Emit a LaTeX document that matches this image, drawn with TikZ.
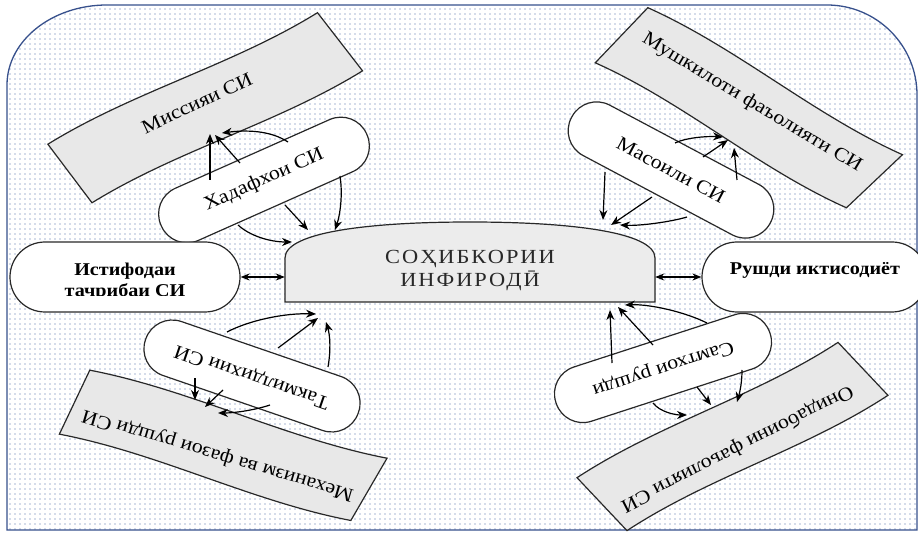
\documentclass[tikz,border=0pt]{standalone}
\usepackage{fontspec}
\setmainfont{Liberation Serif}[FakeStretch=1.12]
\usetikzlibrary{patterns.meta,arrows.meta,calc}
\definecolor{dotcol}{RGB}{75,105,165}
\definecolor{bordcol}{RGB}{55,80,140}
\definecolor{bangray}{RGB}{232,232,232}
\definecolor{segray}{RGB}{236,236,236}
\definecolor{edgecol}{RGB}{40,40,40}
\definecolor{setxt}{RGB}{40,40,40}
\tikzset{
  pill/.style={draw=edgecol, fill=white, line width=1.2pt, rounded corners=28pt,
    minimum width=225pt, minimum height=57pt, inner sep=0pt, font=\fontsize{19.5}{22}\selectfont},
  sidenode/.style={draw=edgecol, fill=white, line width=1.2pt, rounded corners=35pt,
    minimum height=70pt, inner sep=0pt},
  bannerpath/.style={draw=edgecol, fill=bangray, line width=1.2pt},
  bantext/.style={font=\fontsize{19.5}{22}\selectfont, inner sep=0pt},
  sidetext/.style={font=\fontsize{18}{21}\selectfont\bfseries, inner sep=0pt},
  setext/.style={font=\fontsize{20}{23}\selectfont\addfontfeature{LetterSpace=10}, text=setxt, inner sep=0pt, align=center},
  arr/.style={line width=1.2pt, -{Stealth[length=10pt,width=8pt]}},
  darr/.style={line width=1.2pt, {Stealth[length=9pt,width=7pt]}-{Stealth[length=9pt,width=7pt]}},
}
\begin{document}
\begin{tikzpicture}[x=1pt,y=-1pt]
\useasboundingbox (0,0) rectangle (918,534);
\fill[white] (0,0) rectangle (918,534);
% background frame with dots
\path[pattern={Dots[distance=5pt,radius=0.55pt]}, pattern color=dotcol]
  (7,530) -- (7,85) arc[start angle=180,end angle=270,x radius=100,y radius=80]
  -- (827,5) arc[start angle=270,end angle=360,radius=90] -- (917,530) -- cycle;
\draw[bordcol, line width=1.3pt]
  (7,530) -- (7,85) arc[start angle=180,end angle=270,x radius=100,y radius=80]
  -- (827,5) arc[start angle=270,end angle=360,radius=90] -- (917,530) -- cycle;

% banners
\begin{scope}[shift={(204.75,107.75)}, rotate=26]
\draw[bannerpath] (-157,-36) .. controls (-57,-46) and (43,-26) .. (143,-36)
  -- (158,36) .. controls (58,46) and (-43,26) .. (-143,36) -- cycle;
\end{scope}
\begin{scope}[shift={(748,108.25)}, rotate=-30]
\draw[bannerpath] (-137,-37) .. controls (-39,-47) and (59,-27) .. (157,-37)
  -- (135,37) .. controls (38,47) and (-58,27) .. (-155,37) -- cycle;
\end{scope}
\begin{scope}[shift={(221.75,445.75)}, rotate=163.5]
\draw[bannerpath] (-145,-35) .. controls (-44,-45) and (58,-25) .. (159,-35)
  -- (148,35) .. controls (45,45) and (-59,25) .. (-162,35) -- cycle;
\end{scope}
\begin{scope}[shift={(732.5,436.5)}, rotate=207.4]
\draw[bannerpath] (-157,-35) .. controls (-59,-45) and (39,-25) .. (137,-35)
  -- (157,35) .. controls (59,45) and (-39,25) .. (-137,35) -- cycle;
\end{scope}
\node[bantext, rotate=25] (mis) at (197,103) {Миссияи СИ};
\node[bantext, rotate=-31] (mush) at (752,103) {Мушкилоти фаъолияти СИ};
\node[bantext, rotate=163.5] (mex) at (218,455) {Механизм ва фазои рушди СИ};
\node[bantext, rotate=207] (oin) at (737,448) {Онидабоини фаъолияти СИ};

% pills
\node[pill, rotate=24] (had) at (264,180) {Хадафхои СИ};
\node[pill, rotate=-28] (mas) at (671,170) {Масоили СИ};
\node[pill, rotate=161] (tak) at (252,376) {Такмилдихии СИ};
\node[pill, rotate=198] (sam) at (663,368) {Самтхои рушди};

% central node
\draw[draw=edgecol, fill=segray, line width=1.2pt]
  (285,302) -- (285,258) .. controls (285,232) and (370,222) .. (470,222)
  .. controls (570,222) and (655,232) .. (655,258) -- (655,302) -- cycle;
\node[setext, minimum width=370pt, minimum height=60pt] (se) at (470,271) {СОҲИБКОРИИ\\ИНФИРОДӢ};

% side nodes
\node[sidenode, minimum width=230pt] (ist) at (125,277) {};
\node[sidetext] (istt) at (125,271) {Истифодаи};
\begin{scope}
\clip (0,230) rectangle (300,296);
\node[sidetext] (istb) at (125,292) {тачрибаи СИ};
\end{scope}
\node[sidenode, minimum width=225pt] (rush) at (814.5,277) {};
\node[sidetext] (rusht) at (815,270) {Рушди иктисодиёт};

\draw[darr] (ist.east) -- (ist.east -| se.west);
\draw[darr] (rush.west) -- (rush.west -| se.east);

% arrows top-left
\coordinate (h1a) at (210,180); \coordinate (h1b) at (210,134);
\coordinate (h2a) at (240,163); \coordinate (h2b) at (215,135);
\coordinate (h3a) at (288,142); \coordinate (h3b) at (222,133);
\coordinate (h4a) at (238,225); \coordinate (h4b) at (292,242);
\coordinate (h5a) at (285,205); \coordinate (h5b) at (308,230);
\coordinate (h6a) at (340,176); \coordinate (h6b) at (335,230);
\draw[arr] (h1a) -- (h1b);
\draw[arr] (h2a) -- (h2b);
\draw[arr] (h3a) .. controls (270,130) and (245,130) .. (h3b);
\draw[arr] (h4a) .. controls (250,236) and (270,242) .. (h4b);
\draw[arr] (h5a) -- (h5b);
\draw[arr] (h6a) .. controls (343,195) and (340,215) .. (h6b);
% arrows top-right
\coordinate (m1a) at (675,143); \coordinate (m1b) at (723,137);
\coordinate (m2a) at (703,157); \coordinate (m2b) at (728,140);
\coordinate (m3a) at (737,180); \coordinate (m3b) at (734,148);
\coordinate (m4a) at (605,172); \coordinate (m4b) at (603,220);
\coordinate (m5a) at (652,197); \coordinate (m5b) at (611,225);
\coordinate (m6a) at (687,217); \coordinate (m6b) at (620,225);
\draw[arr] (m1a) .. controls (685,138) and (705,136) .. (m1b);
\draw[arr] (m2a) -- (m2b);
\draw[arr] (m3a) -- (m3b);
\draw[arr] (m4a) -- (m4b);
\draw[arr] (m5a) -- (m5b);
\draw[arr] (m6a) .. controls (670,222) and (640,226) .. (m6b);
% arrows bottom-left
\coordinate (t1a) at (227,332); \coordinate (t1b) at (316,314);
\coordinate (t2a) at (278,348); \coordinate (t2b) at (318,318);
\coordinate (t3a) at (328,367); \coordinate (t3b) at (326,322);
\coordinate (t4a) at (195,378); \coordinate (t4b) at (195,400);
\coordinate (t5a) at (223,390); \coordinate (t5b) at (205,407);
\coordinate (t6a) at (270,405); \coordinate (t6b) at (218,413);
\draw[arr] (t1a) .. controls (250,320) and (285,313) .. (t1b);
\draw[arr] (t2a) -- (t2b);
\draw[arr] (t3a) .. controls (331,350) and (330,335) .. (t3b);
\draw[arr] (t4a) -- (t4b);
\draw[arr] (t5a) -- (t5b);
\draw[arr] (t6a) .. controls (255,410) and (235,413) .. (t6b);
% arrows bottom-right
\coordinate (s1a) at (612,363); \coordinate (s1b) at (610,310);
\coordinate (s2a) at (653,345); \coordinate (s2b) at (618,307);
\coordinate (s3a) at (707,323); \coordinate (s3b) at (625,305);
\coordinate (s4a) at (653,403); \coordinate (s4b) at (687,415);
\coordinate (s5a) at (697,387); \coordinate (s5b) at (711,405);
\coordinate (s6a) at (742,370); \coordinate (s6b) at (737,402);
\draw[arr] (s1a) -- (s1b);
\draw[arr] (s2a) -- (s2b);
\draw[arr] (s3a) .. controls (685,312) and (650,304) .. (s3b);
\draw[arr] (s4a) .. controls (660,412) and (675,415) .. (s4b);
\draw[arr] (s5a) -- (s5b);
\draw[arr] (s6a) .. controls (742,385) and (739,395) .. (s6b);
\end{tikzpicture}
\end{document}
